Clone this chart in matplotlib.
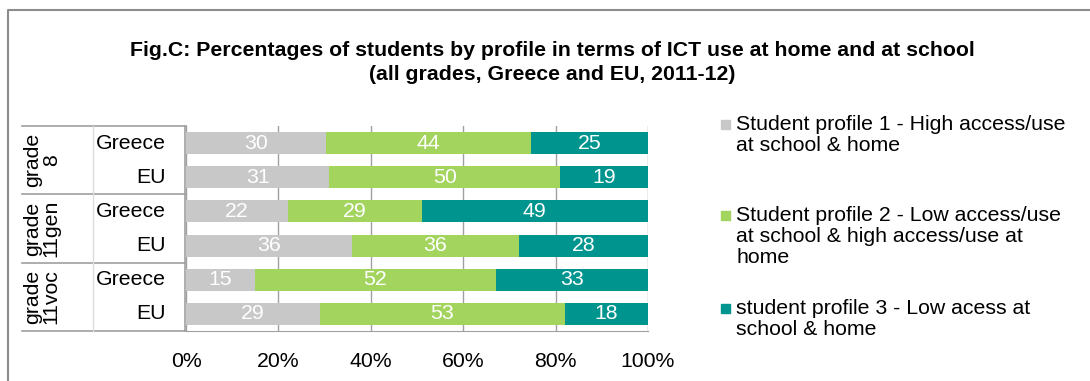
import matplotlib.pyplot as plt
from matplotlib.lines import Line2D
from matplotlib.patches import Rectangle
import numpy as np

plt.rcParams['font.family'] = ['Liberation Sans', 'DejaVu Sans']

groups = ["grade\n8", "grade\n11gen", "grade\n11voc"]
countries = ["Greece", "EU", "Greece", "EU", "Greece", "EU"]
profile1 = [30, 31, 22, 36, 15, 29]
profile2 = [44, 50, 29, 36, 52, 53]
profile3 = [25, 19, 49, 28, 33, 18]
series_names = [
    "Student profile 1 - High access/use\nat school & home",
    "Student profile 2 - Low access/use\nat school & high access/use at\nhome",
    "student profile 3 - Low acess at\nschool & home",
]
colors = ["#C8C8C8", "#A2D45E", "#00948F"]
ticks = [0, 20, 40, 60, 80, 100]

FS = 15.3
W, H = 1090, 381
fig = plt.figure(figsize=(W / 100, H / 100), dpi=100)


def fx(px):
    return px / W


def fy(py):
    return 1 - py / H


x0, x1, y0, y1 = 186, 648, 126, 331
ax = fig.add_axes([fx(x0), fy(y1), fx(x1) - fx(x0), fy(y0) - fy(y1)])

# 100% stacked: each row is scaled to its own total
data = np.array([profile1, profile2, profile3], dtype=float)
shares = data / data.sum(axis=0) * 100

rows = np.arange(len(countries))
left = np.zeros(len(countries))
for vals, share, col in zip(data, shares, colors):
    bars = ax.barh(rows, share, left=left, height=0.64, color=col, zorder=2)
    for b, v in zip(bars, vals):
        ax.text(b.get_x() + b.get_width() / 2, b.get_y() + b.get_height() / 2,
                f"{v:.0f}", ha="center", va="center", color="white", fontsize=FS, zorder=3)
    left += share

ax.set_xlim(0, 100)
ax.set_ylim(len(countries) - 0.5, -0.5)
ax.set_xticks(ticks)
ax.set_xticklabels([f"{t}%" for t in ticks], fontsize=FS)
ax.tick_params(axis="x", length=0, pad=15)
ax.set_yticks([])
ax.grid(axis="x", color="#A0A0A0", linewidth=1, zorder=0)
for s in ["top", "left", "right"]:
    ax.spines[s].set_visible(False)
ax.spines["bottom"].set_color("#A0A0A0")
ax.spines["bottom"].set_zorder(4)

# category table on the left of the bars
line_kw = dict(color="#A0A0A0", linewidth=1.2, transform=fig.transFigure)
row_h = (y1 - y0) / len(countries)
for k in range(len(groups) + 1):
    yy = y0 + k * 2 * row_h
    fig.add_artist(Line2D([fx(22), fx(x0)], [fy(yy), fy(yy)], **line_kw))
fig.add_artist(Line2D([fx(x0 - 1), fx(x0 - 1)], [fy(y0), fy(y1)], **line_kw))
fig.add_artist(Line2D([fx(93), fx(93)], [fy(y0), fy(y1)], color="#DCDCDC",
                      linewidth=1, transform=fig.transFigure))

for i, c in enumerate(countries):
    fig.text(fx(166), fy(y0 + (i + 0.5) * row_h), c, ha="right", va="center", fontsize=FS)
for k, g in enumerate(groups):
    fig.text(fx(42), fy(y0 + (2 * k + 1) * row_h), g, ha="center", va="center",
             rotation=90, fontsize=FS, linespacing=0.95, multialignment="center")

fig.text(fx(552), fy(50), "Fig.C: Percentages of students by profile in terms of ICT use at home and at school",
         ha="center", va="center", fontsize=FS, fontweight="bold")
fig.text(fx(552), fy(74), "(all grades, Greece and EU, 2011-12)",
         ha="center", va="center", fontsize=FS, fontweight="bold")

# legend
legend_rows = [128, 219, 312]
for name, col, yc in zip(series_names, colors, legend_rows):
    fig.add_artist(Rectangle((fx(721), fy(yc + 1)), fx(9), fy(0) - fy(9),
                             color=col, transform=fig.transFigure))
    fig.text(fx(736), fy(yc - 13), name, ha="left", va="top", fontsize=FS, linespacing=1.13)

# outer frame
fig.add_artist(Line2D([fx(8), fx(8), fx(W)], [fy(H), fy(10), fy(10)],
                      color="#8C8C8C", linewidth=1.5, transform=fig.transFigure))

fig.savefig("out.png", dpi=100)
